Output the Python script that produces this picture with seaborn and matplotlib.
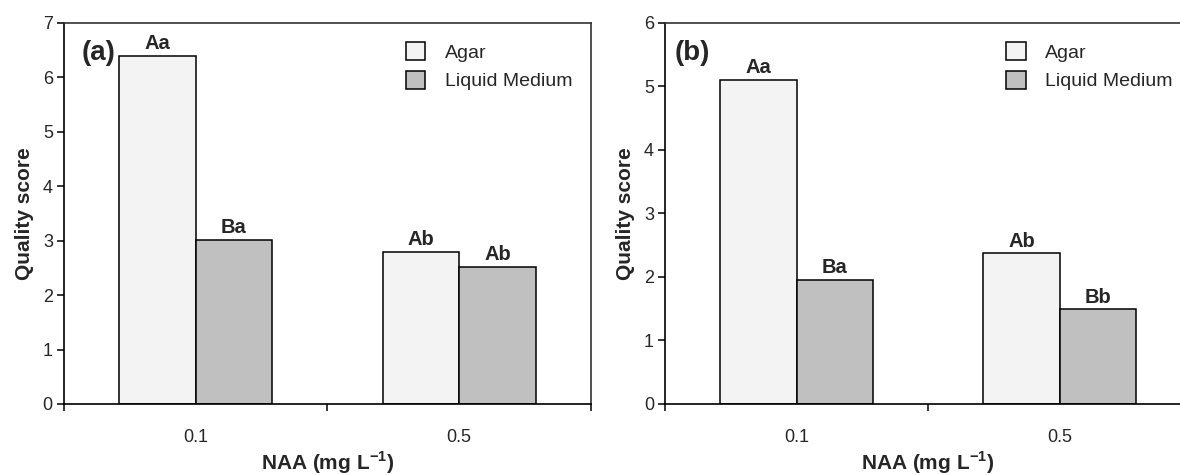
import numpy as np
import pandas as pd
import seaborn as sns
import matplotlib.pyplot as plt
from matplotlib.patches import Patch

# NAA concentrations (mg/L) and culture media
naa_levels = ["0.1", "0.5"]
media = ["Agar", "Liquid Medium"]

# Quality scores, panel (a)
score_a_agar = [6.4, 2.8]
score_a_liquid = [3.02, 2.52]
letters_a_agar = ["Aa", "Ab"]
letters_a_liquid = ["Ba", "Ab"]

# Quality scores, panel (b)
score_b_agar = [5.1, 2.37]
score_b_liquid = [1.95, 1.49]
letters_b_agar = ["Aa", "Ab"]
letters_b_liquid = ["Ba", "Bb"]

bar_colors = ["#f3f3f3", "#c0c0c0"]

sns.set_theme(style="white")
plt.rcParams["font.family"] = ["Liberation Sans", "DejaVu Sans"]
plt.rcParams["mathtext.fontset"] = "custom"
plt.rcParams["mathtext.rm"] = "Liberation Sans"
plt.rcParams["mathtext.bf"] = "Liberation Sans:bold"


def long_table(agar, liquid):
    return pd.DataFrame({
        "NAA": naa_levels * 2,
        "medium": [media[0]] * len(agar) + [media[1]] * len(liquid),
        "score": list(agar) + list(liquid),
    })


def draw_panel(ax, df, letters, ymax, tag, tag_x):
    sns.barplot(data=df, x="NAA", y="score", hue="medium", order=naa_levels,
                hue_order=media, palette=bar_colors, saturation=1,
                width=0.58, gap=0, edgecolor="black", linewidth=1.1,
                errorbar=None, legend=False, ax=ax)
    for cont, labs in zip(ax.containers, letters):
        ax.bar_label(cont, labels=labs, padding=2, fontsize=14.5,
                     fontweight="bold")

    ax.set_xlim(-0.5, 1.5)
    ax.set_ylim(0, ymax)
    ax.set_yticks(range(0, ymax + 1))
    ax.set_xticks([-0.5, 0.5, 1.5])
    ax.set_xticklabels([])
    ax.set_xticks([0, 1], minor=True)
    ax.set_xticklabels(naa_levels, minor=True)
    ax.tick_params(axis="x", which="major", direction="out", length=5,
                   width=1.1, color="black", bottom=True)
    ax.tick_params(axis="x", which="minor", length=0, pad=18, labelsize=13)
    ax.tick_params(axis="y", direction="out", length=5, width=1.1,
                   color="black", left=True, labelsize=13, pad=3)

    for side, sp in ax.spines.items():
        sp.set_visible(True)
        sp.set_linewidth(1.2)
        sp.set_color("black" if side in ("left", "bottom") else "#333333")

    ax.set_xlabel("NAA (mg L$^{\\mathbf{-1}}$)", fontsize=15,
                  fontweight="bold")
    ax.xaxis.set_label_coords(0.5, -0.118)
    ax.set_ylabel("Quality score", fontsize=15, fontweight="bold",
                  labelpad=6)

    ax.text(tag_x, 0.921, tag, transform=ax.transAxes, fontsize=20,
            fontweight="bold", ha="left", va="center")

    handles = [Patch(facecolor=c, edgecolor="black", linewidth=1.1)
               for c in bar_colors]
    ax.legend(handles, media, loc="upper left",
              bbox_to_anchor=(0.63, 0.975), frameon=False, fontsize=14,
              borderpad=0, handlelength=1.0, handleheight=1.05,
              handletextpad=1.0, labelspacing=0.45)


fig = plt.figure(figsize=(11.8, 4.75), dpi=100)
ax_a = fig.add_axes([0.0542, 0.1495, 0.4466, 0.8021])
ax_b = fig.add_axes([0.5636, 0.1495, 0.4458, 0.8021])

draw_panel(ax_a, long_table(score_a_agar, score_a_liquid),
           [letters_a_agar, letters_a_liquid], 7, "(a)", 0.034)
draw_panel(ax_b, long_table(score_b_agar, score_b_liquid),
           [letters_b_agar, letters_b_liquid], 6, "(b)", 0.019)

fig.savefig("out.png", dpi=100)
